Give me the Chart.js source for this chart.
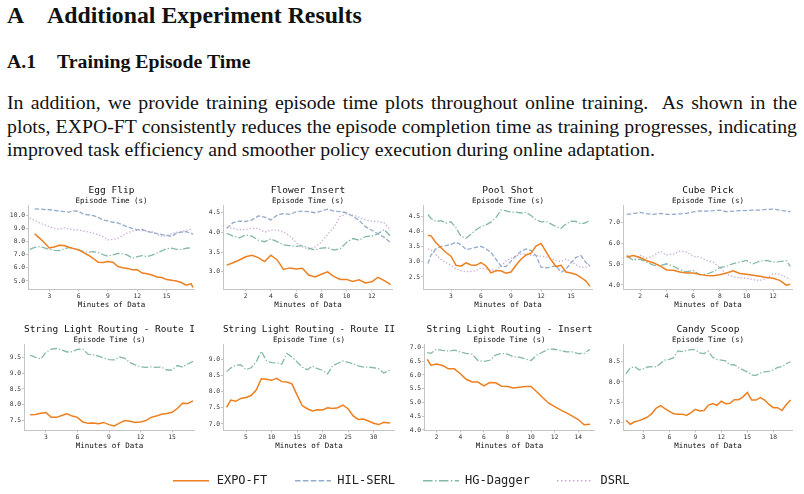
<!DOCTYPE html>
<html lang="en">
<head>
  <meta charset="UTF-8" />
  <title>Training Episode Time</title>
  <script src="https://cdn.jsdelivr.net/npm/chart.js"></script>
  <style>
    html, body { margin: 0; padding: 0; background: #fff; }
    #page { position: relative; width: 804px; height: 494px; overflow: hidden; background: #fff; }
    .tx { position: absolute; font-family: 'Liberation Serif', 'Times New Roman', serif; color: #111; white-space: nowrap; line-height: 1; }
    .h1 { font-size: 23.8px; font-weight: bold; }
    .h2 { font-size: 19.8px; font-weight: bold; }
    .para { font-size: 19.8px; left: 7px; width: 790px; }
    .just { text-align: justify; text-align-last: justify; }
    .panel { position: absolute; }
    #legend { position: absolute; left: 0; top: 470px; width: 804px; height: 22px; }
    #legend span { position: absolute; top: 3px; font-family: 'DejaVu Sans Mono', monospace; font-size: 12px; color: #222; }
  </style>
</head>
<body>
<div id="page">
  <div class="tx h1" style="left:7px; top:4px;">A</div>
  <div class="tx h1" style="left:47px; top:4px;">Additional Experiment Results</div>
  <div class="tx h2" style="left:7px; top:52px;">A.1</div>
  <div class="tx h2" style="left:57px; top:52px;">Training Episode Time</div>

  <div class="tx para just" style="top:93px;">In addition, we provide training episode time plots throughout online training.&nbsp; As shown in the</div>
  <div class="tx para just" style="top:116.6px;">plots, EXPO-FT consistently reduces the episode completion time as training progresses, indicating</div>
  <div class="tx para" style="top:140.4px;">improved task efficiency and smoother policy execution during online adaptation.</div>

  <div class="panel" style="left:-2px; top:185px; width:197px; height:125px;"><canvas id="eggFlip"></canvas></div>
  <div class="panel" style="left:193px; top:185px; width:200px; height:125px;"><canvas id="flowerInsert"></canvas></div>
  <div class="panel" style="left:393px; top:185px; width:200px; height:125px;"><canvas id="poolShot"></canvas></div>
  <div class="panel" style="left:593px; top:185px; width:200px; height:125px;"><canvas id="cubePick"></canvas></div>
  <div class="panel" style="left:-6px; top:324px; width:201px; height:127px;"><canvas id="route1"></canvas></div>
  <div class="panel" style="left:193px; top:324px; width:202px; height:127px;"><canvas id="route2"></canvas></div>
  <div class="panel" style="left:394px; top:324px; width:201px; height:127px;"><canvas id="insert"></canvas></div>
  <div class="panel" style="left:593px; top:324px; width:200px; height:127px;"><canvas id="candyScoop"></canvas></div>

  <!-- Legend -->
  <div id="legend">
    <svg width="804" height="22" style="position:absolute;left:0;top:0;">
      <line x1="173" y1="10.7" x2="209" y2="10.7" stroke="#ee7f1f" stroke-width="1.6"/>
      <line x1="295" y1="10.7" x2="331" y2="10.7" stroke="#94abcb" stroke-width="1.5" stroke-dasharray="5.5 2.4"/>
      <line x1="423" y1="10.7" x2="459" y2="10.7" stroke="#84b9a5" stroke-width="1.5" stroke-dasharray="9.6 2.4 1.5 2.4"/>
      <line x1="557" y1="10.7" x2="593" y2="10.7" stroke="#c8a7d8" stroke-width="1.5" stroke-dasharray="1.5 2.5"/>
    </svg>
    <span style="left:216.7px;">EXPO-FT</span>
    <span style="left:337.3px;">HIL-SERL</span>
    <span style="left:465px;">HG-Dagger</span>
    <span style="left:600.5px;">DSRL</span>
  </div>
</div>

<script>
  // ---------- Data ----------
  // Egg Flip
  const eggFlipMinutes = [1.0, 1.5, 2.0, 2.5, 3.0, 3.5, 4.0, 4.5, 5.0, 5.5, 6.0, 6.5, 7.0, 7.5, 8.0, 8.5, 9.0, 9.5, 10.0, 10.5, 11.0, 11.5, 12.0, 12.5, 13.0, 13.5, 14.0, 14.5, 15.0, 15.5, 16.0, 16.5, 17.0, 17.5, 17.7];
  const eggFlipExpo = [null, 8.58, 8.25, 7.90, 7.50, 7.58, 7.70, 7.68, 7.55, 7.45, 7.35, 7.15, 6.95, 6.70, 6.42, 6.40, 6.47, 6.42, 6.10, 6.00, 5.95, 5.85, 5.84, 5.60, 5.55, 5.45, 5.30, 5.26, 5.10, 5.05, 5.00, 4.88, 4.68, 4.80, 4.50];
  const eggFlipHil = [null, 10.47, 10.45, 10.42, 10.40, 10.35, 10.30, 10.26, 10.22, 10.32, 10.28, 10.05, 10.02, 9.95, 9.82, 9.62, 9.55, 9.45, 9.40, 9.25, 9.10, 8.98, 8.88, 8.90, 8.75, 8.68, 8.58, 8.52, 8.45, 8.38, 8.62, 8.70, 8.74, 8.60, 8.56];
  const eggFlipHg = [7.40, 7.55, 7.60, 7.50, 7.40, 7.32, 7.30, 7.42, 7.55, 7.48, 7.38, 7.22, 7.18, 7.22, 7.15, 7.00, 6.88, 6.98, 7.08, 7.05, 6.95, 6.72, 6.85, 6.92, 6.85, 6.95, 7.12, 7.28, 7.45, 7.48, 7.40, 7.38, 7.48, 7.52, null];
  const eggFlipDsrl = [9.78, 9.58, 9.40, 9.25, 9.12, 9.00, 8.92, 9.02, 8.95, 8.88, 8.86, 8.78, 8.72, 8.62, 8.50, 8.35, 8.12, 8.15, 8.22, 8.45, 8.65, 8.78, 8.85, 8.82, 8.78, 8.72, 8.55, 8.38, 8.42, 8.60, 8.68, 8.75, 8.82, 8.92, null];
  const eggFlipXTicks = [3, 6, 9, 12, 15];
  const eggFlipYTicks = [5, 6, 7, 8, 9, 10];

  // Flower Insert
  const flowerMinutes = [0.5, 1.0, 1.5, 2.0, 2.5, 3.0, 3.5, 4.0, 4.5, 5.0, 5.5, 6.0, 6.5, 7.0, 7.5, 8.0, 8.5, 9.0, 9.5, 10.0, 10.5, 11.0, 11.5, 12.0, 12.5, 13.0, 13.5];
  const flowerExpo = [3.17, 3.23, 3.30, 3.38, 3.42, 3.36, 3.26, 3.42, 3.30, 3.06, 3.10, 3.07, 3.09, 2.92, 2.87, 2.94, 3.00, 2.88, 2.81, 2.81, 2.76, 2.80, 2.72, 2.75, 2.86, 2.78, 2.68];
  const flowerHil = [4.10, 4.24, 4.28, 4.27, 4.31, 4.41, 4.38, 4.31, 4.43, 4.47, 4.45, 4.51, 4.53, 4.52, 4.49, 4.53, 4.58, 4.53, 4.52, 4.49, 4.40, 4.30, 4.14, 4.05, 3.96, 3.87, 3.73];
  const flowerHg = [3.97, 3.90, 3.86, 3.93, 3.90, 3.80, 3.76, 3.83, 3.76, 3.68, 3.66, 3.64, 3.66, 3.60, 3.55, 3.60, 3.61, 3.55, 3.58, 3.74, 3.84, 3.80, 3.89, 3.90, 3.96, 4.07, 3.89];
  const flowerDsrl = [4.12, 4.10, 4.06, 4.07, 4.10, 4.09, 4.00, 4.05, 4.05, 4.00, 3.91, 3.74, 3.63, 3.57, 3.63, 3.75, 3.95, 4.12, 4.40, 4.46, 4.43, 4.38, 4.31, 4.28, 4.27, 4.23, 4.05];
  const flowerXTicks = [2, 4, 6, 8, 10, 12];
  const flowerYTicks = [3.0, 3.5, 4.0, 4.5];

  // Pool Shot
  const poolMinutes = [0.7, 1.0, 1.5, 2.0, 2.5, 3.0, 3.5, 4.0, 4.5, 5.0, 5.5, 6.0, 6.5, 7.0, 7.5, 8.0, 8.5, 9.0, 9.5, 10.0, 10.5, 11.0, 11.5, 12.0, 12.5, 13.0, 13.5, 14.0, 14.5, 15.0, 15.5, 16.0, 16.5, 16.9];
  const poolExpo = [3.87, 3.85, 3.62, 3.46, 3.30, 3.18, 2.88, 2.85, 2.96, 2.89, 2.88, 2.97, 2.86, 2.63, 2.70, 2.70, 2.62, 2.66, 2.88, 3.08, 3.22, 3.28, 3.51, 3.60, 3.33, 3.06, 2.84, 2.88, 2.66, 2.63, 2.58, 2.48, 2.36, 2.19];
  const poolHil = [2.94, 3.22, 3.42, 3.50, 3.53, 3.57, 3.64, 3.56, 3.40, 3.43, 3.47, 3.50, 3.43, 3.30, 3.08, 2.85, 2.84, 3.02, 3.19, 3.34, 3.42, 3.37, 3.20, 2.82, 2.80, 2.82, 2.87, 2.65, 2.75, 2.96, 3.14, 3.20, 2.97, 2.85];
  const poolHg = [4.55, 4.42, 4.32, 4.35, 4.27, 4.31, 4.12, 3.83, 3.77, 3.90, 4.05, 4.15, 4.21, 4.30, 4.45, 4.70, 4.67, 4.62, 4.63, 4.60, 4.62, 4.52, 4.38, 4.31, 4.32, 4.24, 4.15, 4.10, 4.24, 4.33, 4.32, 4.24, 4.28, 4.37];
  const poolDsrl = [3.42, 3.39, 3.23, 3.07, 2.97, 2.88, 2.76, 2.70, 2.67, 2.68, 2.70, 2.80, 2.76, 2.73, 2.73, 2.84, 3.03, 3.11, 3.19, 3.25, 3.25, 3.22, 3.20, 3.18, 3.16, 3.10, 3.04, 3.00, 3.09, 3.00, 2.90, 2.81, 2.83, 2.94];
  const poolXTicks = [3, 6, 9, 12, 15];
  const poolYTicks = [2.5, 3.0, 3.5, 4.0, 4.5];

  // Cube Pick
  const cubeMinutes = [1.0, 1.5, 2.0, 2.5, 3.0, 3.5, 4.0, 4.5, 5.0, 5.5, 6.0, 6.5, 7.0, 7.5, 8.0, 8.5, 9.0, 9.5, 10.0, 10.5, 11.0, 11.5, 12.0, 12.5, 13.0, 13.3];
  const cubeExpo = [5.35, 5.42, 5.32, 5.17, 5.07, 4.92, 4.72, 4.71, 4.62, 4.58, 4.57, 4.51, 4.45, 4.44, 4.49, 4.58, 4.68, 4.55, 4.52, 4.47, 4.42, 4.36, 4.32, 4.22, 3.99, 4.03];
  const cubeHil = [7.40, 7.44, 7.50, 7.44, 7.40, 7.45, 7.41, 7.40, 7.43, 7.45, 7.52, 7.57, 7.56, 7.58, 7.61, 7.53, 7.56, 7.58, 7.59, 7.61, 7.61, 7.64, 7.66, 7.61, 7.56, 7.53];
  const cubeHg = [5.39, 5.20, 5.24, 5.10, 4.96, 4.92, 5.02, 4.90, 4.74, 4.63, 4.70, 4.49, 4.52, 4.64, 4.83, 4.90, 5.03, 5.10, 5.18, 5.02, 5.15, 5.18, 5.11, 5.12, 5.17, 4.90];
  const cubeDsrl = [5.44, 5.19, 5.42, 5.30, 5.40, 5.62, 5.45, 5.48, 5.64, 5.58, 5.38, 5.35, 5.18, 5.10, 4.85, 4.52, 4.40, 4.34, 4.33, 4.25, 4.22, 4.32, 4.54, 4.52, 4.36, 4.26];
  const cubeXTicks = [2, 4, 6, 8, 10, 12];
  const cubeYTicks = [4, 5, 6, 7];

  // String Light Routing - Route I
  const route1Minutes = [1.5, 2.0, 2.5, 3.0, 3.5, 4.0, 4.5, 5.0, 5.5, 6.0, 6.5, 7.0, 7.5, 8.0, 8.5, 9.0, 9.5, 10.0, 10.5, 11.0, 11.5, 12.0, 12.5, 13.0, 13.5, 14.0, 14.5, 15.0, 15.5, 16.0, 16.5, 17.0];
  const route1Expo = [7.68, 7.69, 7.73, 7.75, 7.60, 7.60, 7.66, 7.71, 7.64, 7.60, 7.45, 7.41, 7.42, 7.40, 7.44, 7.37, 7.33, 7.42, 7.50, 7.48, 7.44, 7.45, 7.50, 7.60, 7.64, 7.70, 7.72, 7.76, 7.88, 8.05, 8.04, 8.12];
  const route1Hg = [9.57, 9.50, 9.45, 9.66, 9.76, 9.78, 9.73, 9.67, 9.68, 9.75, 9.76, 9.60, 9.58, 9.54, 9.48, 9.43, 9.42, 9.51, 9.47, 9.33, 9.26, 9.20, 9.18, 9.20, 9.18, 9.19, 9.10, 9.10, 9.24, 9.19, 9.29, 9.37];
  const route1XTicks = [3, 6, 9, 12, 15];
  const route1YTicks = [7.5, 8.0, 8.5, 9.0, 9.5];

  // String Light Routing - Route II
  const route2Minutes = [1.2, 2, 3, 4, 5, 6, 7, 8, 9, 10, 11, 12, 13, 14, 15, 16, 17, 18, 19, 20, 21, 22, 23, 24, 25, 26, 27, 28, 29, 30, 31, 32, 33, 33.3];
  const route2Expo = [7.51, 7.74, 7.70, 7.79, 7.82, 7.88, 8.05, 8.40, 8.38, 8.35, 8.41, 8.31, 8.30, 8.24, 7.90, 7.57, 7.47, 7.40, 7.44, 7.43, 7.50, 7.48, 7.50, 7.58, 7.47, 7.25, 7.14, 7.15, 7.09, 7.02, 6.98, 7.05, 7.03, 7.04];
  const route2Hg = [8.62, 8.73, 8.82, 8.83, 8.68, 8.74, 8.92, 9.25, 8.96, 8.90, 8.89, 8.85, 9.18, 9.07, 8.92, 8.76, 8.68, 8.79, 8.71, 8.66, 8.55, 8.80, 8.88, 8.95, 8.91, 8.86, 8.80, 8.76, 8.76, 8.74, 8.71, 8.58, 8.65, 8.70];
  const route2XTicks = [5, 10, 15, 20, 25, 30];
  const route2YTicks = [7.0, 7.5, 8.0, 8.5, 9.0];

  // String Light Routing - Insert
  const insertMinutes = [1.2, 1.5, 2.0, 2.5, 3.0, 3.5, 4.0, 4.5, 5.0, 5.5, 6.0, 6.5, 7.0, 7.5, 8.0, 8.5, 9.0, 9.5, 10.0, 10.5, 11.0, 11.5, 12.0, 12.5, 13.0, 13.5, 14.0, 14.5, 15.0];
  const insertExpo = [6.56, 6.35, 6.39, 6.34, 6.22, 6.22, 6.04, 5.84, 5.74, 5.74, 5.60, 5.72, 5.71, 5.59, 5.58, 5.52, 5.55, 5.58, 5.58, 5.38, 5.17, 4.97, 4.85, 4.73, 4.62, 4.50, 4.38, 4.19, 4.21];
  const insertHg = [6.81, 6.78, 6.93, 6.89, 6.86, 6.90, 6.83, 6.78, 6.75, 6.52, 6.49, 6.53, 6.72, 6.78, 6.75, 6.66, 6.64, 6.58, 6.52, 6.72, 6.83, 6.94, 6.93, 6.88, 6.84, 6.83, 6.77, 6.78, 6.93];
  const insertXTicks = [2, 4, 6, 8, 10, 12, 14];
  const insertYTicks = [4.0, 4.5, 5.0, 5.5, 6.0, 6.5, 7.0];

  // Candy Scoop
  const candyMinutes = [1.0, 1.5, 2.0, 2.5, 3.0, 3.5, 4.0, 4.5, 5.0, 5.5, 6.0, 6.5, 7.0, 7.5, 8.0, 8.5, 9.0, 9.5, 10.0, 10.5, 11.0, 11.5, 12.0, 12.5, 13.0, 13.5, 14.0, 14.5, 15.0, 15.5, 16.0, 16.5, 17.0, 17.5, 18.0, 18.5, 19.0, 19.5, 20.0];
  const candyExpo = [7.05, 6.95, 7.01, 7.04, 7.08, 7.13, 7.22, 7.35, 7.41, 7.34, 7.27, 7.21, 7.20, 7.20, 7.17, 7.24, 7.32, 7.28, 7.29, 7.42, 7.46, 7.42, 7.52, 7.46, 7.47, 7.56, 7.56, 7.63, 7.74, 7.55, 7.55, 7.61, 7.55, 7.44, 7.36, 7.36, 7.29, 7.44, 7.55];
  const candyHg = [8.20, 8.35, 8.38, 8.30, 8.32, 8.37, 8.38, 8.37, 8.46, 8.54, 8.56, 8.60, 8.77, 8.75, 8.78, 8.80, 8.80, 8.72, 8.70, 8.76, 8.61, 8.56, 8.54, 8.52, 8.42, 8.43, 8.35, 8.30, 8.25, 8.17, 8.16, 8.22, 8.25, 8.26, 8.30, 8.36, 8.38, 8.45, 8.50];
  const candyXTicks = [3, 6, 9, 12, 15, 18];
  const candyYTicks = [7.0, 7.5, 8.0, 8.5];

  // ---------- Styles ----------
  const MONO = 'DejaVu Sans Mono';
  const SPINE = '#c4c4c4';
  const methodStyle = {
    'EXPO-FT':   { borderColor: '#ee7f1f', borderWidth: 1.5, borderDash: [] },
    'HIL-SERL':  { borderColor: '#94abcb', borderWidth: 1.3, borderDash: [4.5, 2] },
    'HG-Dagger': { borderColor: '#84b9a5', borderWidth: 1.3, borderDash: [7, 2, 1.3, 2] },
    'DSRL':      { borderColor: '#c8a7d8', borderWidth: 1.3, borderDash: [1.3, 2] }
  };

  function points(xs, ys) {
    return xs.map((x, i) => ({ x: x, y: ys[i] }));
  }

  function makePanel(canvasId, title, minutes, series, xTicks, yTicks, xRange, yRange) {
    const datasets = Object.keys(series).map(name => Object.assign({
      label: name,
      data: points(minutes, series[name]),
      pointRadius: 0,
      fill: false,
      tension: 0
    }, methodStyle[name]));

    new Chart(document.getElementById(canvasId), {
      type: 'line',
      data: { datasets: datasets },
      options: {
        responsive: true,
        maintainAspectRatio: false,
        animation: false,
        layout: { padding: 0 },
        plugins: {
          legend: { display: false },
          tooltip: { enabled: false },
          title: {
            display: true, text: title, fullSize: false, color: '#111',
            font: { family: MONO, size: 9.5, weight: 'normal' },
            padding: { top: 0, bottom: 0 }
          },
          subtitle: {
            display: true, text: 'Episode Time (s)', fullSize: false, color: '#111',
            font: { family: MONO, size: 7.5 },
            padding: { top: 0, bottom: 0 }
          }
        },
        scales: {
          x: {
            type: 'linear',
            min: xRange[0], max: xRange[1],
            afterBuildTicks: s => { s.ticks = xTicks.map(v => ({ value: v })); },
            ticks: {
              autoSkip: false, maxRotation: 0, padding: 1, color: '#333',
              font: { family: MONO, size: 6.3 },
              callback: v => String(v)
            },
            grid: { display: true, drawOnChartArea: false, drawTicks: true, tickLength: 2, color: SPINE },
            border: { display: true, color: SPINE, width: 1 },
            title: {
              display: true, text: 'Minutes of Data', color: '#111',
              font: { family: MONO, size: 7.5 }, padding: { top: 0, bottom: 0 }
            }
          },
          y: {
            type: 'linear',
            min: yRange[0], max: yRange[1],
            afterBuildTicks: s => { s.ticks = yTicks.map(v => ({ value: v })); },
            afterFit: s => { s.width = 30; },
            ticks: {
              padding: 1, color: '#333',
              font: { family: MONO, size: 6.3 },
              callback: v => Number(v).toFixed(1)
            },
            grid: { display: true, drawOnChartArea: false, drawTicks: true, tickLength: 2, color: SPINE },
            border: { display: true, color: SPINE, width: 1 }
          }
        }
      }
    });
  }

  makePanel('eggFlip', 'Egg Flip', eggFlipMinutes,
    { 'EXPO-FT': eggFlipExpo, 'HIL-SERL': eggFlipHil, 'HG-Dagger': eggFlipHg, 'DSRL': eggFlipDsrl },
    eggFlipXTicks, eggFlipYTicks, [0.82, 17.9], [4.353, 10.73]);

  makePanel('flowerInsert', 'Flower Insert', flowerMinutes,
    { 'EXPO-FT': flowerExpo, 'HIL-SERL': flowerHil, 'HG-Dagger': flowerHg, 'DSRL': flowerDsrl },
    flowerXTicks, flowerYTicks, [0.2, 13.69], [2.557, 4.675]);

  makePanel('poolShot', 'Pool Shot', poolMinutes,
    { 'EXPO-FT': poolExpo, 'HIL-SERL': poolHil, 'HG-Dagger': poolHg, 'DSRL': poolDsrl },
    poolXTicks, poolYTicks, [0.2, 17.2], [2.088, 4.849]);

  makePanel('cubePick', 'Cube Pick', cubeMinutes,
    { 'EXPO-FT': cubeExpo, 'HIL-SERL': cubeHil, 'HG-Dagger': cubeHg, 'DSRL': cubeDsrl },
    cubeXTicks, cubeYTicks, [0.72, 13.5], [3.783, 7.836]);

  makePanel('route1', 'String Light Routing - Route I', route1Minutes,
    { 'EXPO-FT': route1Expo, 'HG-Dagger': route1Hg },
    route1XTicks, route1YTicks, [0.905, 17.19], [7.186, 9.91]);

  makePanel('route2', 'String Light Routing - Route II', route2Minutes,
    { 'EXPO-FT': route2Expo, 'HG-Dagger': route2Hg },
    route2XTicks, route2YTicks, [0.49, 34.2], [6.798, 9.463]);

  makePanel('insert', 'String Light Routing - Insert', insertMinutes,
    { 'EXPO-FT': insertExpo, 'HG-Dagger': insertHg },
    insertXTicks, insertYTicks, [0.924, 15.42], [3.983, 7.106]);

  makePanel('candyScoop', 'Candy Scoop', candyMinutes,
    { 'EXPO-FT': candyExpo, 'HG-Dagger': candyHg },
    candyXTicks, candyYTicks, [0.659, 20.27], [6.796, 8.93]);
</script>
</body>
</html>
